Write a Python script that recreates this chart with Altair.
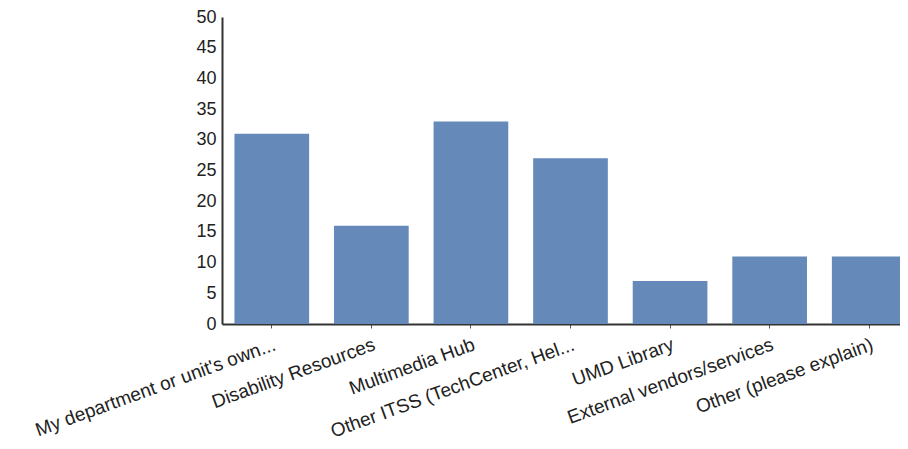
import altair as alt
import pandas as pd

categories = [
    "My department or unit's own...",
    "Disability Resources",
    "Multimedia Hub",
    "Other ITSS (TechCenter, Hel...",
    "UMD Library",
    "External vendors/services",
    "Other (please explain)",
]
counts = [31, 16, 33, 27, 7, 11, 11]
y_ticks = list(range(0, 51, 5))

df = pd.DataFrame({"category": categories, "count": counts})

chart = (
    alt.Chart(df)
    .mark_bar(color="#6589b9")
    .encode(
        x=alt.X(
            "category:N",
            sort=categories,
            title=None,
            scale=alt.Scale(paddingInner=0.25, paddingOuter=0.125, range=[0, 697]),
            axis=alt.Axis(
                labelAngle=-20,
                labelAlign="right",
                labelBaseline="top",
                labelFont="Liberation Sans",
                labelFontSize=19,
                labelColor="#222222",
                labelPadding=7,
                labelLimit=400,
                labelOverlap=False,
                domainColor="#333333",
                domainWidth=2,
                tickColor="#555555",
                tickSize=4,
                grid=False,
            ),
        ),
        y=alt.Y(
            "count:Q",
            title=None,
            scale=alt.Scale(domain=[0, 50], nice=False),
            axis=alt.Axis(
                values=y_ticks,
                labelFont="Liberation Sans",
                labelFontSize=18,
                labelColor="#222222",
                labelPadding=6,
                ticks=False,
                domainColor="#333333",
                domainWidth=2,
                grid=False,
            ),
        ),
    )
    .properties(
        width=678,
        height=307,
        background="white",
        autosize=alt.AutoSizeParams(type="none"),
        padding={"left": 214, "top": 9, "right": 0, "bottom": 117},
    )
    .configure_view(strokeWidth=0, stroke=None)
)

chart.save("out.html", embed_options={"renderer": "svg", "actions": False})
